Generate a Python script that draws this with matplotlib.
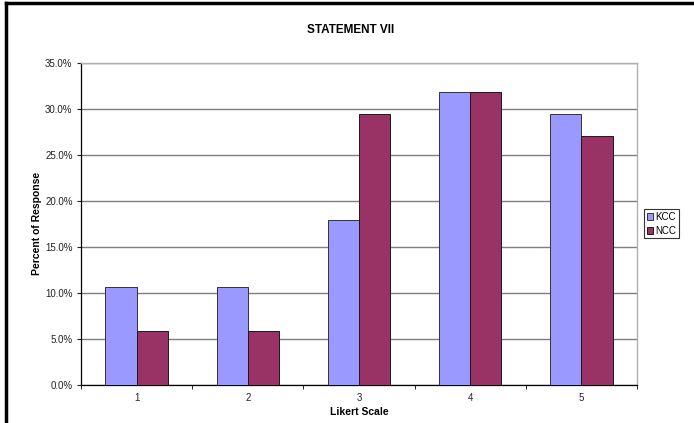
import numpy as np
import matplotlib
matplotlib.use('Agg')
import matplotlib.pyplot as plt
from matplotlib.ticker import FuncFormatter, FixedLocator
from matplotlib.lines import Line2D

# survey results, percent of response per Likert point
likert = [1, 2, 3, 4, 5]
kcc = [10.6, 10.6, 17.9, 31.8, 29.4]
ncc = [5.8, 5.8, 29.4, 31.8, 27.1]

plt.rcParams['font.family'] = ['Liberation Sans', 'DejaVu Sans']

fig = plt.figure(figsize=(6.94, 4.23), dpi=100)
ax = fig.add_axes([81 / 694, 1 - 384.6 / 423, 556 / 694, 321.6 / 423])

x = np.arange(len(likert)) + 1
w = 0.28
ax.bar(x - w / 2, kcc, w, color='#9999FF', edgecolor='#333333', linewidth=0.7, label='KCC', zorder=3)
ax.bar(x + w / 2, ncc, w, color='#993366', edgecolor='#1a1a1a', linewidth=0.7, label='NCC', zorder=3)

ax.set_xlim(0.5, 5.5)
ax.set_ylim(0, 35)
ax.set_yticks(np.arange(0, 36, 5))
ax.yaxis.set_major_formatter(FuncFormatter(lambda v, p: '%.1f%%' % v))
ax.yaxis.grid(True, color='#7f7f7f', linewidth=1.0, zorder=0)

# category labels centred, tick marks between groups
ax.set_xticks(x)
ax.set_xticklabels([str(v) for v in likert])
ax.tick_params(axis='x', which='major', length=0, pad=6, labelsize=7, colors='#222222')
ax.xaxis.set_minor_locator(FixedLocator(np.arange(0.5, 6, 1)))
ax.tick_params(axis='x', which='minor', length=3, direction='out', color='black')
ax.tick_params(axis='y', length=3, direction='out', labelsize=7, colors='#222222', pad=3)

for s in ['left', 'bottom']:
    ax.spines[s].set_color('black')
    ax.spines[s].set_linewidth(0.9)
for s in ['top', 'right']:
    ax.spines[s].set_color('#b0b0b0')
    ax.spines[s].set_linewidth(1.0)

ax.set_xlabel('Likert Scale', fontsize=7.5, fontweight='bold', labelpad=3)
ax.set_ylabel('Percent of Response', fontsize=7.5, fontweight='bold', labelpad=2)
fig.text(351 / 694, 1 - 30 / 423, 'STATEMENT VII', ha='center', va='center',
         fontsize=8.5, fontweight='bold')

leg = ax.legend(loc='center left', bbox_to_anchor=(1.012, 0.5), fontsize=7,
                frameon=True, fancybox=False, handlelength=0.7, handleheight=0.7,
                handletextpad=0.2, borderpad=0.3, labelspacing=0.35, borderaxespad=0)
leg.get_frame().set_edgecolor('black')
leg.get_frame().set_linewidth(0.8)

# frame lines along the left and top of the image
fig.add_artist(Line2D([5.5 / 694, 5.5 / 694], [0, 1 - 3.5 / 423], color='black', linewidth=2.5))
fig.add_artist(Line2D([5.5 / 694, 1], [1 - 3.5 / 423, 1 - 3.5 / 423], color='black', linewidth=2.5))

fig.savefig('out.png', dpi=100)
